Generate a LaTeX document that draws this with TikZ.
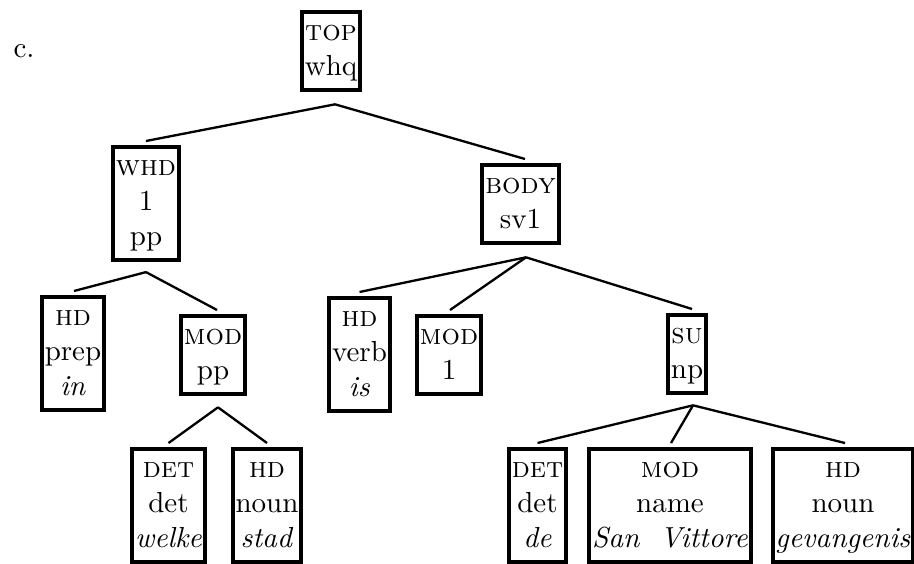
\documentclass[tikz,border=0pt]{standalone}
\usetikzlibrary{calc}

\begin{document}
\begin{tikzpicture}[
			x=0.345pt, y=0.345pt,
			every node/.style={align=center},
			box/.style={rectangle, draw, line width=1.4pt, inner xsep=1pt, inner ysep=1.5pt, anchor=north},
			edge/.style={line width=0.8pt}
			]
			\useasboundingbox (0,0) rectangle (914,-563);
			
			% Label
			\node[anchor=base west, inner sep=0pt] (lab) at (13,-57) {c.};
			
			% Nodes
			\node[box] (top) at (331,-10) {\strut\textsc{top}\\whq\strut};
			\node[box] (whd) at (146,-145) {\strut\textsc{whd}\\1\\pp\strut};
			\node[box] (body) at (520.5,-163) {\strut\textsc{body}\\sv1\strut};
			\node[box] (hdprep) at (73,-295) {\strut\textsc{hd}\\prep\\\textit{in}\strut};
			\node[box] (modpp) at (213,-314) {\strut\textsc{mod}\\pp\strut};
			\node[box] (detwelke) at (168.5,-447) {\strut\textsc{det}\\det\\\textit{welke}\strut};
			\node[box] (hdstad) at (267,-447) {\strut\textsc{hd}\\noun\\\textit{stad}\strut};
			\node[box] (hdverb) at (359.5,-296) {\strut\textsc{hd}\\verb\\\textit{is}\strut};
			\node[box] (mod1) at (449,-314) {\strut\textsc{mod}\\1\strut};
			\node[box] (su) at (687,-313) {\strut\textsc{su}\\np\strut};
			\node[box] (detde) at (537.5,-447) {\strut\textsc{det}\\det\\\textit{de}\strut};
			\node[box] (modsv) at (670,-447) {\strut\textsc{mod}\\name\\\textit{San\ \ Vittore}\strut};
			\node[box] (hdgev) at (843,-447) {\strut\textsc{hd}\\noun\\\textit{gevangenis}\strut};
			
			% Branch points
			\coordinate (top-a) at ($(top.south)+(4,-12)$);
			\coordinate (whd-a) at ($(whd.south)+(0,-10)$);
			\coordinate (body-a) at ($(body.south)+(5.5,-12)$);
			\coordinate (modpp-a) at ($(modpp.south)+(5,-11)$);
			\coordinate (su-a) at ($(su.south)+(6,-10)$);
			
			% Edges
			\draw[edge] (top-a) -- ($(whd.north)+(0,4)$);
			\draw[edge] (top-a) -- ($(body.north)+(4.5,4)$);
			\draw[edge] (whd-a) -- ($(hdprep.north)+(1,4)$);
			\draw[edge] (whd-a) -- ($(modpp.north)+(4,4)$);
			\draw[edge] (modpp-a) -- ($(detwelke.north)+(0,4)$);
			\draw[edge] (modpp-a) -- ($(hdstad.north)+(0,4)$);
			\draw[edge] (body-a) -- ($(hdverb.north)+(0,4)$);
			\draw[edge] (body-a) -- ($(mod1.north)+(1,4)$);
			\draw[edge] (body-a) -- ($(su.north)+(5,4)$);
			\draw[edge] (su-a) -- ($(detde.north)+(0,4)$);
			\draw[edge] (su-a) -- ($(modsv.north)+(1,4)$);
			\draw[edge] (su-a) -- ($(hdgev.north)+(2,4)$);
		\end{tikzpicture}
\end{document}
